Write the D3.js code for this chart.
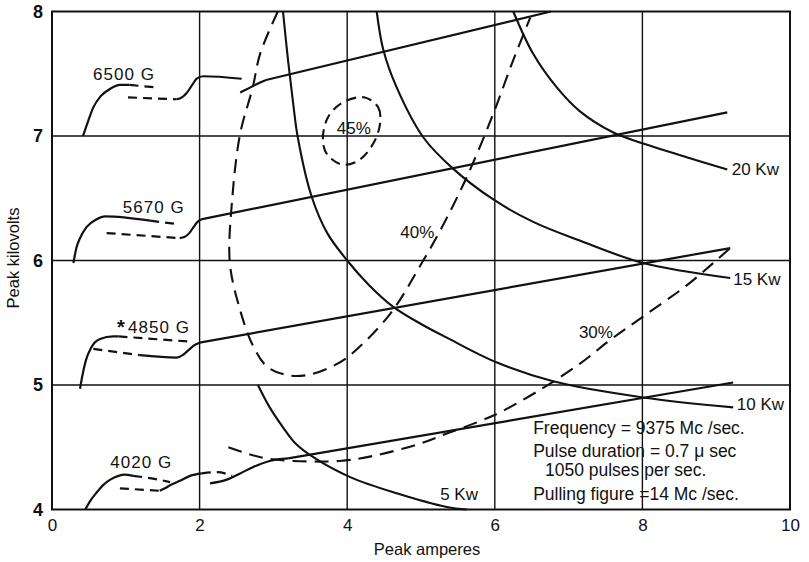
<!DOCTYPE html>
<html><head><meta charset="utf-8">
<script src="https://cdn.jsdelivr.net/npm/d3@7"></script>
<style>
body{margin:0;background:#fff;}
svg{display:block;font-family:"Liberation Sans",Arial,sans-serif;}
</style></head>
<body><svg id="c" width="809" height="562"></svg>
<script>
// ---- axes ----
const xTicks = [0, 2, 4, 6, 8, 10];
const yTicks = [4, 5, 6, 7, 8];
const xGrid = [2, 4, 6, 8];
const yGrid = [5, 6, 7];
const xTitle = "Peak amperes";
const yTitle = "Peak kilovolts";

// ---- magnetic field lines: curved pieces (solid / dashed) ----
const g6500Solid1 = [[0.42,7.0],[0.49,7.12],[0.56,7.23],[0.66,7.32],[0.79,7.38],[0.92,7.41],[1.05,7.41]];
const g6500Dash1  = [[1.05,7.41],[1.42,7.39]];
const g6500Dash2  = [[1.03,7.31],[1.69,7.295]];
const g6500Solid2 = [[1.69,7.295],[1.76,7.31],[1.83,7.35],[1.9,7.41],[1.96,7.46],[2.05,7.48],[2.57,7.46]];
const g6500Solid3 = [[2.55,7.35],[2.64,7.375],[2.75,7.41],[2.9,7.45]];
const g6500Line   = [[2.9,7.45],[6.76,8.0]];

const g5670Solid1 = [[0.29,5.98],[0.33,6.1],[0.38,6.18],[0.47,6.27],[0.6,6.33],[0.72,6.355],[1.33,6.32]];
const g5670Dash1  = [[1.33,6.32],[1.73,6.29]];
const g5670Dash2  = [[0.74,6.22],[1.73,6.18]];
const g5670Solid2 = [[1.73,6.18],[1.8,6.19],[1.86,6.22],[1.92,6.27],[1.97,6.31],[2.02,6.33]];
const g5670Line   = [[2.02,6.33],[9.15,7.19]];

const g4850Solid1 = [[0.38,4.97],[0.41,5.07],[0.46,5.2],[0.53,5.3],[0.65,5.37],[0.83,5.39],[0.9,5.39]];
const g4850Dash1  = [[0.9,5.39],[1.84,5.35]];
const g4850Dash2  = [[0.56,5.29],[1.19,5.24]];
const g4850Solid2 = [[1.19,5.24],[1.69,5.22],[1.77,5.24],[1.85,5.28],[1.93,5.32],[2.0,5.34]];
const g4850Line   = [[2.0,5.34],[9.19,6.10]];

const g4020Solid1 = [[0.45,4.0],[0.53,4.08],[0.61,4.14],[0.7,4.2],[0.79,4.24],[0.9,4.27],[0.98,4.28],[1.1,4.27]];
const g4020Dash1  = [[1.1,4.27],[1.35,4.25],[1.6,4.22]];
const g4020Dash2  = [[0.92,4.17],[1.46,4.15]];
const g4020Solid2 = [[1.46,4.15],[1.53,4.17],[1.6,4.195],[1.73,4.23],[1.87,4.27],[2.03,4.29]];
const g4020Dash3  = [[2.03,4.29],[2.24,4.30],[2.44,4.27]];
const g4020Solid3 = [[2.14,4.21],[2.37,4.24],[2.55,4.29],[2.72,4.34],[2.95,4.39],[3.2,4.41]];
const g4020Line   = [[3.2,4.41],[9.23,5.02]];

// ---- constant power curves ----
const p20 = [[6.25,8.0],[6.52,7.66],[6.84,7.39],[7.15,7.2],[7.6,7.03],[8.01,6.94],[8.6,6.83],[9.15,6.73]];
const p15 = [[4.4,8.0],[4.49,7.69],[4.67,7.39],[5.03,6.99],[5.43,6.74],[5.98,6.49],[6.52,6.31],[7.15,6.16],[8.01,5.98],[9.19,5.86]];
const p10 = [[3.13,8.0],[3.2,7.6],[3.27,7.25],[3.33,6.99],[3.52,6.51],[3.73,6.22],[4.0,6.0],[4.3,5.8],[4.62,5.63],[5.0,5.49],[5.35,5.38],[6.03,5.18],[6.79,5.03],[8.01,4.9],[9.23,4.82]];
const p5  = [[2.79,5.0],[2.95,4.82],[3.13,4.66],[3.3,4.53],[3.54,4.42],[4.04,4.26],[4.67,4.13],[5.35,4.02],[5.62,4.0]];

// ---- efficiency contours (dashed) ----
const eff45 = [[4.24,7.31],[4.42,7.23],[4.45,7.13],[4.38,6.97],[4.17,6.81],[3.94,6.77],[3.73,6.85],[3.67,6.97],[3.74,7.15],[3.94,7.27]];
const eff40 = [[3.06,8.0],[2.82,7.66],[2.72,7.39],[2.55,7.02],[2.44,6.48],[2.41,5.98],[2.55,5.6],[2.72,5.32],[2.91,5.15],[3.18,5.08],[3.46,5.08],[3.8,5.15],[4.04,5.24],[4.58,5.57],[5.03,6.0],[5.26,6.24],[5.62,6.67],[5.98,7.18],[6.25,7.61],[6.48,7.95]];
const eff30 = [[2.39,4.50],[2.64,4.45],[2.91,4.41],[3.27,4.39],[3.9,4.39],[4.35,4.43],[4.99,4.53],[5.35,4.61],[5.8,4.71],[6.07,4.78],[6.61,4.96],[7.15,5.17],[7.56,5.36],[8.01,5.55],[8.6,5.8],[8.96,5.98],[9.19,6.10]];

// ---- labels ----
const gaussLabels = [["6500 G",0.556,7.45],["5670 G",0.96,6.38],["4850 G",1.03,5.42],["4020 G",0.79,4.33]];
const powerLabels = [["20 Kw",9.21,6.69],["15 Kw",9.23,5.80],["10 Kw",9.28,4.80],["5 Kw",5.26,4.08]];
const effLabels = [["45%",4.09,7.02],["40%",4.95,6.18],["30%",7.37,5.38]];
const noteLines = [
  ["Frequency = 9375 Mc /sec.", 6.52, 4.61],
  ["Pulse duration = 0.7 \u03bc sec", 6.52, 4.42],
  ["1050 pulses per sec.", 6.68, 4.27],
  ["Pulling figure =14 Mc /sec.", 6.52, 4.08]
];

const svg = d3.select("#c");
const x = d3.scaleLinear().domain([0,10]).range([52,790]);
const y = d3.scaleLinear().domain([4,8]).range([509.5,11.5]);
const ink = "#111";

// grid
svg.append("g").selectAll("line").data(xGrid).join("line")
  .attr("x1",d=>x(d)).attr("x2",d=>x(d)).attr("y1",y(4)).attr("y2",y(8))
  .attr("stroke",ink).attr("stroke-width",1.4);
svg.append("g").selectAll("line").data(yGrid).join("line")
  .attr("x1",x(0)).attr("x2",x(10)).attr("y1",d=>y(d)).attr("y2",d=>y(d))
  .attr("stroke",ink).attr("stroke-width",1.4);
// frame
svg.append("rect").attr("x",x(0)).attr("y",y(8)).attr("width",x(10)-x(0)).attr("height",y(4)-y(8))
  .attr("fill","none").attr("stroke",ink).attr("stroke-width",2);

// axes
const xAxis = svg.append("g").attr("transform",`translate(0,${y(4)})`)
  .call(d3.axisBottom(x).tickValues(xTicks).tickSize(0).tickPadding(9).tickFormat(d3.format("d")));
const yAxis = svg.append("g").attr("transform",`translate(${x(0)},0)`)
  .call(d3.axisLeft(y).tickValues(yTicks).tickSize(0).tickPadding(9).tickFormat(d3.format("d")));
[xAxis,yAxis].forEach(a=>{a.select(".domain").remove();
  a.selectAll("text").attr("fill",ink).style("font-family","Liberation Sans, Arial, sans-serif").style("font-size","17px");});
yAxis.selectAll("text").style("font-weight","bold").style("font-size","18px");

svg.append("text").attr("x",(x(0)+x(10))/2+6).attr("y",555).attr("text-anchor","middle")
  .attr("font-size",16.5).attr("fill",ink).text(xTitle);
svg.append("text").attr("transform",`translate(19,${y(6.02)}) rotate(-90)`).attr("text-anchor","middle")
  .attr("font-size",16.5).attr("fill",ink).text(yTitle);

// curves
const lineMono = d3.line().x(d=>x(d[0])).y(d=>y(d[1])).curve(d3.curveMonotoneX);
const lineStraight = d3.line().x(d=>x(d[0])).y(d=>y(d[1]));
const lineCR = d3.line().x(d=>x(d[0])).y(d=>y(d[1])).curve(d3.curveCatmullRom.alpha(0.5));
const lineClosed = d3.line().x(d=>x(d[0])).y(d=>y(d[1])).curve(d3.curveCatmullRomClosed.alpha(0.5));

const solids = [g6500Solid1,g6500Solid2,g6500Solid3,g5670Solid1,g5670Solid2,g4850Solid1,g4850Solid2,g4020Solid1,g4020Solid2,g4020Solid3];
const straights = [g6500Line,g5670Line,g4850Line,g4020Line];
const dashes = [g6500Dash1,g6500Dash2,g5670Dash1,g5670Dash2,g4850Dash1,g4850Dash2,g4020Dash1,g4020Dash2,g4020Dash3];
const g = svg.append("g").attr("fill","none").attr("stroke",ink).attr("stroke-linecap","butt");
g.selectAll(".s").data(solids).join("path").attr("class","s").attr("d",lineMono).attr("stroke-width",2.2);
g.selectAll(".l").data(straights).join("path").attr("class","l").attr("d",lineStraight).attr("stroke-width",2.2);
g.selectAll(".d").data(dashes).join("path").attr("class","d").attr("d",lineMono).attr("stroke-width",2.2).attr("stroke-dasharray","9,6");
g.selectAll(".p").data([p20,p15,p10,p5]).join("path").attr("class","p").attr("d",lineCR).attr("stroke-width",2.1);
g.selectAll(".e").data([eff40,eff30]).join("path").attr("class","e").attr("d",lineCR).attr("stroke-width",2.1).attr("stroke-dasharray","14,8");
g.append("path").datum(eff45).attr("d",lineClosed).attr("stroke-width",2.1).attr("stroke-dasharray","10,6");

// labels
const tg = svg.append("g").attr("fill",ink).attr("font-size",17);
tg.selectAll(".gl").data(gaussLabels).join("text").attr("class","gl")
  .attr("x",d=>x(d[1])).attr("y",d=>y(d[2])).attr("textLength",61).attr("lengthAdjust","spacing").text(d=>d[0]);
tg.append("text").attr("x",x(0.88)).attr("y",y(5.41)).attr("font-size",20).attr("font-weight","bold").text("*");
tg.selectAll(".pl").data(powerLabels).join("text").attr("class","pl")
  .attr("x",d=>x(d[1])).attr("y",d=>y(d[2])).text(d=>d[0]);
tg.selectAll(".el").data(effLabels).join("text").attr("class","el").attr("text-anchor","middle")
  .attr("x",d=>x(d[1])).attr("y",d=>y(d[2])).text(d=>d[0]);
tg.selectAll(".nl").data(noteLines).join("text").attr("class","nl").attr("font-size",17.5)
  .attr("x",d=>x(d[1])).attr("y",d=>y(d[2])).text(d=>d[0]);
</script></body></html>
